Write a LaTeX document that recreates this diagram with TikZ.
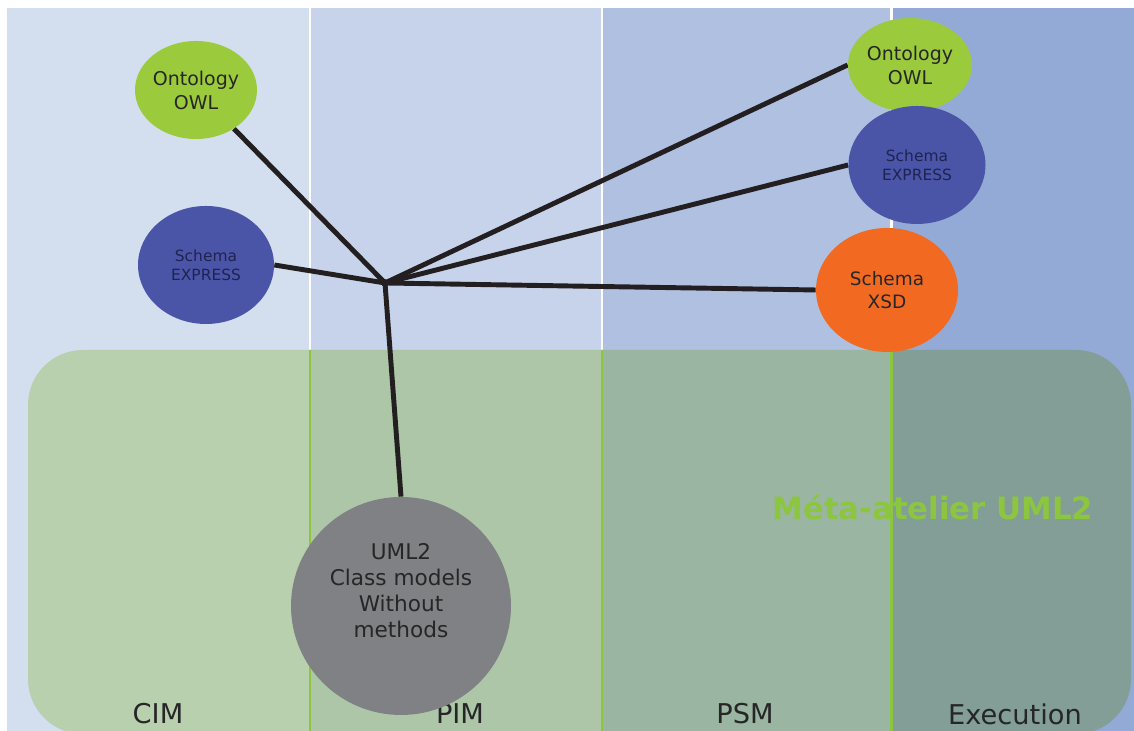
\documentclass[tikz,border=0pt]{standalone}
\usepackage{fontspec}
\setmainfont{DejaVu Sans}
\usetikzlibrary{shapes.geometric, positioning}
\definecolor{cimblue}{HTML}{D3DEEE}
\definecolor{pimblue}{HTML}{C6D3EA}
\definecolor{psmblue}{HTML}{AFC0E0}
\definecolor{exeblue}{HTML}{94AAD6}
\definecolor{cimgreen}{HTML}{B8D0AE}
\definecolor{pimgreen}{HTML}{ADC6A8}
\definecolor{psmgreen}{HTML}{9BB5A3}
\definecolor{exegreen}{HTML}{839E97}
\definecolor{owllime}{HTML}{9BCB3C}
\definecolor{sepgreen}{HTML}{8CC63F}
\definecolor{expblue}{HTML}{4B55A8}
\definecolor{xsdorange}{HTML}{F26A22}
\definecolor{umlgray}{HTML}{808184}
\definecolor{linkdark}{HTML}{231F20}
\definecolor{txtdark}{HTML}{262626}
\definecolor{txtnavy}{HTML}{1E2350}
\pgfdeclarelayer{backdrop}
\pgfdeclarelayer{links}
\pgfsetlayers{backdrop,links,main}

\begin{document}
\begin{tikzpicture}[
  blob/.style={ellipse, inner sep=0pt, align=center, text=txtdark},
  owl/.style={blob, fill=owllime, minimum width=2.44cm, minimum height=1.96cm,
    font=\fontsize{10.8}{13.6}\selectfont},
  express/.style={blob, fill=expblue, minimum width=2.72cm, minimum height=2.36cm,
    text=txtnavy, font=\fontsize{8.8}{10.8}\selectfont},
  link/.style={linkdark, line width=2.8pt},
  colname/.style={text=txtdark, font=\fontsize{15.5}{18}\selectfont},
  sepline/.style={line width=1.7pt}
]
\useasboundingbox (0,0) rectangle (22.68,14.62);

\begin{pgfonlayer}{backdrop}
% Background columns
\fill[cimblue] (0.14,0) rectangle (6.20,14.46);
\fill[pimblue] (6.20,0) rectangle (12.04,14.46);
\fill[psmblue] (12.04,0) rectangle (17.82,14.46);
\fill[exeblue] (17.82,0) rectangle (22.68,14.46);
\foreach \sx in {6.20,12.04,17.82}
  \draw[white, sepline] (\sx,7.62) -- (\sx,14.46);

% Green workshop area, split by the same columns
\begin{scope}
  \clip[rounded corners=1.1cm] (0.56,-0.06) rectangle (22.62,7.62);
  \fill[cimgreen] (0.56,-0.1) rectangle (6.20,7.7);
  \fill[pimgreen] (6.20,-0.1) rectangle (12.04,7.7);
  \fill[psmgreen] (12.04,-0.1) rectangle (17.82,7.7);
  \fill[exegreen] (17.82,-0.1) rectangle (22.68,7.7);
  \foreach \sx in {6.20,12.04,17.82}
    \draw[sepgreen, sepline] (\sx,-0.1) -- (\sx,7.7);
\end{scope}

% Column names
\node[colname] (cim) at (3.16,0.34) {CIM};
\node[colname] (pim) at (9.20,0.34) {PIM};
\node[colname] (psm) at (14.90,0.34) {PSM};
\node[colname] (exe) at (20.30,0.34) {Execution};

% Workshop title
\node[text=sepgreen, font=\fontsize{17.5}{20}\selectfont\bfseries] (meta) at (18.66,4.48) {Méta-atelier UML2};
\end{pgfonlayer}

% Formats around the hub
\coordinate (hub) at (7.70,8.96);
\node[owl] (owlL) at (3.92,12.82) {Ontology\\OWL};
\node[express] (expL) at (4.12,9.32) {Schema\\EXPRESS};
\node[owl, minimum width=2.48cm, minimum height=1.88cm] (owlR) at (18.20,13.32) {Ontology\\OWL};
\node[express, minimum width=2.74cm] (expR) at (18.34,11.32) {Schema\\EXPRESS};
\node[blob, fill=xsdorange, minimum width=2.84cm, minimum height=2.48cm,
  font=\fontsize{10.5}{13}\selectfont] (xsd) at (17.74,8.82) {Schema\\XSD};
\node[blob, fill=umlgray, minimum width=4.40cm, minimum height=4.36cm] (uml) at (8.02,2.50) {};
\node[text=txtdark, align=center, font=\fontsize{12.3}{14.8}\selectfont] (umltext) at ([yshift=0.3cm]uml.center)
  {UML2\\Class models\\Without\\methods};

% Links
\begin{pgfonlayer}{links}
\draw[link] (hub) -- (owlL);
\draw[link] (hub) -- (expL.east);
\draw[link] (hub) -- (owlR.west);
\draw[link] (hub) -- (expR.west);
\draw[link] (hub) -- (xsd.west);
\draw[link] (hub) -- (uml.north);
\fill[linkdark] (hub) circle (2.2pt);
\end{pgfonlayer}

\end{tikzpicture}
\end{document}
